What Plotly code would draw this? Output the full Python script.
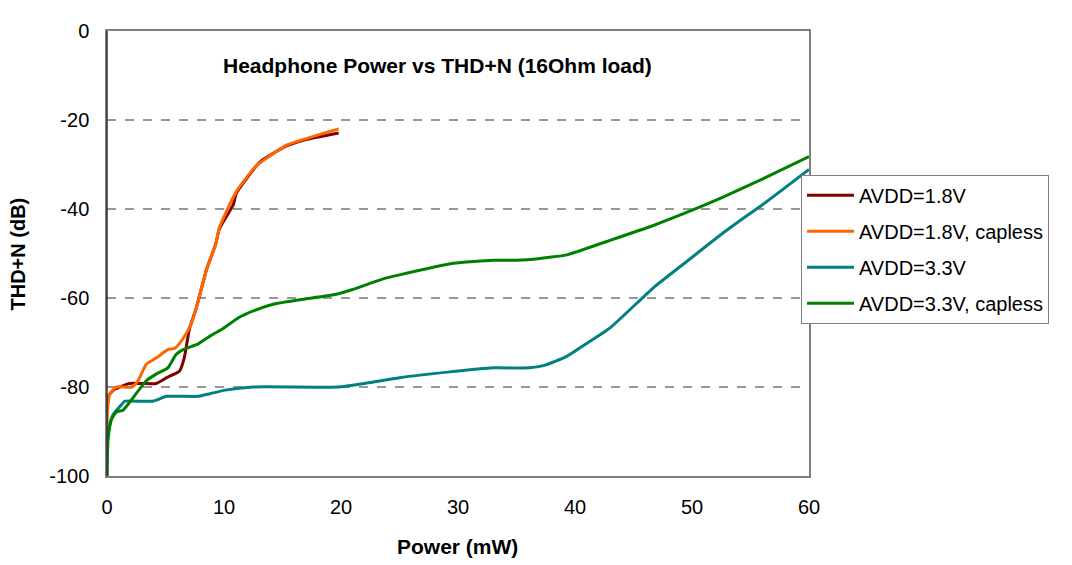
import plotly.graph_objects as go

# ---- data ----
x_18 = [0, 0.15, 0.5, 1.1, 1.9, 3.0, 4.2, 5.1, 6.2, 6.6, 7.05, 7.6, 8.5, 9.3, 9.6, 10.8, 11.05, 13.05, 15.3, 17.0, 19.8]
y_18 = [-84, -82, -80.8, -80, -79.2, -79.2, -79.2, -77.9, -76.4, -73.5, -66.9, -62.5, -53.7, -47.8, -44.5, -39, -36.5, -29.5, -25.9, -24.4, -22.9]

x_18c = [0, 0.05, 0.25, 0.8, 2.1, 2.65, 3.36, 4.2, 5.2, 5.8, 6.5, 7.2, 7.6, 8.5, 9.3, 9.6, 11.05, 12.76, 15.3, 16.75, 19.8]
y_18c = [-91, -85, -81.5, -80, -80, -78.6, -74.9, -73.5, -71.6, -71.3, -69.1, -65.8, -62.5, -53.7, -47.8, -44.2, -36.1, -30.3, -25.7, -24.4, -22.0]

x_33 = [0, 0.05, 0.2, 0.5, 1.2, 1.5, 3.9, 5.1, 7.8, 8.8, 10.1, 12.5, 19.7, 22.2, 25.0, 29.3, 33.0, 36.1, 37.3, 39.3, 41.0, 43.0, 46.7, 49.5, 52.9, 56.4, 60]
y_33 = [-100, -92, -89, -86.3, -84.1, -83.2, -83.2, -82.1, -82.1, -81.5, -80.7, -80, -80, -79.1, -77.9, -76.6, -75.7, -75.7, -75.2, -73.1, -70.2, -66.7, -57.7, -51.9, -44.9, -38.3, -31.1]

x_33c = [0, 0.09, 0.37, 0.8, 1.37, 1.94, 3.36, 4.2, 5.2, 5.9, 6.5, 7.8, 8.9, 9.9, 11.2, 12.5, 14.2, 16.5, 19.7, 21.0, 23.6, 25.0, 29.6, 33.0, 35.0, 37.0, 39.3, 42.7, 46.7, 49.8, 52.6, 56.4, 60]
y_33c = [-100, -91.8, -87.4, -85.6, -85.2, -83.4, -78.6, -77.1, -75.7, -72.7, -71.6, -70.3, -68.4, -66.9, -64.5, -62.9, -61.4, -60.4, -59.1, -58.1, -55.7, -54.8, -52.2, -51.5, -51.5, -51.1, -50.3, -47.3, -43.7, -40.5, -37.4, -32.8, -28.2]

series_names = ["AVDD=1.8V", "AVDD=1.8V, capless", "AVDD=3.3V", "AVDD=3.3V, capless"]
series_colors = ["#800000", "#FF6600", "#008080", "#008000"]
series_x = [x_18, x_18c, x_33, x_33c]
series_y = [y_18, y_18c, y_33, y_33c]

x_ticks = [0, 10, 20, 30, 40, 50, 60]
y_ticks = [-100, -80, -60, -40, -20, 0]

title_text = "Headphone Power vs THD+N (16Ohm load)"
x_title = "Power (mW)"
y_title = "THD+N (dB)"

FONT = "Liberation Sans, Arial, sans-serif"

fig = go.Figure()
for i, (name, color, xs, ys) in enumerate(zip(series_names, series_colors, series_x, series_y)):
    fig.add_trace(go.Scatter(
        x=xs, y=ys, name=name, mode="lines",
        line=dict(color=color, width=3, shape="spline", smoothing=0.5),
        legendgroup=f"g{i}",
    ))

fig.update_layout(
    width=1064, height=557,
    margin=dict(l=99, r=263, t=14, b=89),
    paper_bgcolor="white", plot_bgcolor="white",
    font=dict(family=FONT, color="black", size=20),
    showlegend=True,
    legend=dict(
        x=0.9886, y=0.677, xanchor="left", yanchor="top",
        bgcolor="white", bordercolor="#808080", borderwidth=1,
        font=dict(family=FONT, size=20, color="black"),
        tracegroupgap=7,
        itemwidth=47,
    ),
    xaxis=dict(
        range=[0, 60], tickvals=x_ticks, ticktext=[str(v) for v in x_ticks],
        showgrid=False, zeroline=False, showline=True, linecolor="#808080", linewidth=1.5,
        mirror=True, ticks="", ticklabelstandoff=12,
        tickfont=dict(size=20, family=FONT),
    ),
    yaxis=dict(
        range=[-100, 0], tickvals=y_ticks, ticktext=[str(v) for v in y_ticks],
        showgrid=False, zeroline=False, showline=True, linecolor="#808080", linewidth=1.5,
        mirror=True, ticks="", ticklabelstandoff=12,
        tickfont=dict(size=20, family=FONT),
    ),
)

# dashed horizontal gridlines
for v in y_ticks:
    if v in (-100, 0):
        continue
    fig.add_shape(type="line", xref="paper", x0=0, x1=1, yref="y", y0=v, y1=v,
                  line=dict(color="#303030", width=1, dash="dash"), layer="below")

# darker left axis line
fig.add_shape(type="line", xref="paper", x0=0, x1=0, yref="paper", y0=0, y1=1,
              line=dict(color="#303030", width=1.5))

fig.add_annotation(text="<b>" + title_text + "</b>", xref="paper", yref="paper",
                   x=0.4715, y=0.923, showarrow=False, xanchor="center", yanchor="middle",
                   font=dict(family=FONT, size=21, color="black"))
fig.add_annotation(text="<b>" + x_title + "</b>", xref="paper", yref="paper",
                   x=0.4986, y=-0.1586, showarrow=False, xanchor="center", yanchor="middle",
                   font=dict(family=FONT, size=21, color="black"))
fig.add_annotation(text="<b>" + y_title + "</b>", xref="paper", yref="paper",
                   x=-0.1268, y=0.5, showarrow=False, xanchor="center", yanchor="middle",
                   textangle=-90, font=dict(family=FONT, size=20, color="black"))

fig.write_html("out.html")
